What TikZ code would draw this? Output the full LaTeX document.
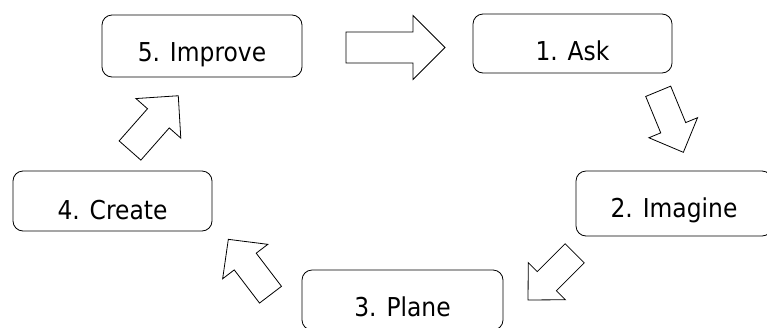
\documentclass[tikz,border=0pt]{standalone}
\usepackage{fontspec}
\setmainfont{DejaVu Sans}[FakeStretch=0.9]
\begin{document}
\begin{tikzpicture}[x=1pt,y=-1pt,
  stage/.style={draw=black, line width=0.8pt, rounded corners=10pt,
    inner sep=0pt, font=\fontsize{26}{28}\selectfont,
    text depth=0pt, text height=#1},
  stage/.default=30pt,
  blockarrow/.style={draw=black, line width=0.8pt, fill=white, line join=miter}]
\useasboundingbox (0,0) rectangle (767,327);
\clip (0,0) rectangle (767,327);

% stages of the cycle (text height = twice the baseline drop below the centre)
\node[stage=31.4pt, minimum width=200pt, minimum height=62pt] (improve) at (202,46) {5. Improve};
\node[stage=33pt, minimum width=199pt, minimum height=59pt] (ask) at (572.5,43.5) {1. Ask};
\node[stage=28pt, minimum width=196pt, minimum height=65pt] (imagine) at (674,203.5) {2. Imagine};
\node[stage=36pt, minimum width=199pt, minimum height=60pt] (create) at (112.5,201) {4. Create};
\node[stage=32pt, minimum width=201pt, minimum height=60pt] (plane) at (402.5,300) {3. Plane};

% block arrow: tail midpoint at origin, pointing along +x
% #1 length, #2 shaft half width, #3 head half width, #4 head length
\newcommand{\blockarrowpath}[4]{%
  (0,-#2) -- (#1-#4,-#2) -- (#1-#4,-#3) -- (#1,0) -- (#1-#4,#3) -- (#1-#4,#2) -- (0,#2) -- cycle}

% improve -> ask
\begin{scope}[shift={(346,47.5)}]
  \draw[blockarrow] \blockarrowpath{99}{15.5}{32}{32};
\end{scope}
% ask -> imagine
\begin{scope}[shift={(658.2,91.3)}, rotate=-67.6]
  \draw[blockarrow] \blockarrowpath{66}{13.5}{26.3}{26.6};
\end{scope}
% imagine -> plane
\begin{scope}[shift={(574.7,253.3)}, rotate=-135]
  \draw[blockarrow] \blockarrowpath{66}{13.5}{26.3}{26.6};
\end{scope}
% plane -> create
\begin{scope}[shift={(270.5,294.7)}, rotate=127.3]
  \draw[blockarrow] \blockarrowpath{69.6}{13.8}{28.4}{27.9};
\end{scope}
% create -> improve
\begin{scope}[shift={(130,150.5)}, rotate=48.6]
  \draw[blockarrow] \blockarrowpath{73}{14.5}{29.9}{30.1};
\end{scope}
\end{tikzpicture}
\end{document}
